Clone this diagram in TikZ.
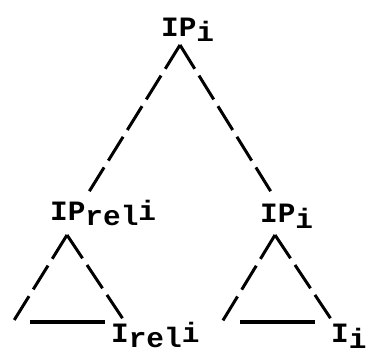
\documentclass[tikz,border=0pt]{standalone}
\usepackage{fontspec}
\newfontfamily\tw[FakeStretch=1.05]{Liberation Mono}
\tikzset{
  lbl/.style={inner sep=0pt, anchor=base west, font=\tw\bfseries\fontsize{28}{28}\selectfont},
  leg/.style={line width=3pt, dash pattern=on 28pt off 8pt},
  bar/.style={line width=3.2pt}
}
\begin{document}
\begin{tikzpicture}[x=1pt,y=-1pt]
\useasboundingbox (0,0) rectangle (368,354);
% labels
\node[lbl] (top)  at (161,36)  {IP\raisebox{-5pt}{i}};
\node[lbl] (relp) at (50,220)  {IP\raisebox{-5pt}{rel}i};
\node[lbl] (ip)   at (260,222) {IP\raisebox{-6pt}{i}};
\node[lbl] (irel) at (111,342) {I\raisebox{-5pt}{rel}i};
\node[lbl] (ii)   at (331,342) {I\raisebox{-6pt}{i}};
% top tree
\coordinate (a0) at (180,45);
\coordinate (a1) at (87,195);
\coordinate (a2) at (273,195);
\draw[leg] (a0) -- (a1);
\draw[leg] (a0) -- (a2);
% left triangle
\coordinate (b0) at (67,235);
\coordinate (b1) at (13,322);
\coordinate (b2) at (125,322);
\coordinate (bl) at (30,322);
\coordinate (br) at (105,322);
\draw[leg] (b0) -- (b1);
\draw[leg] (b0) -- (b2);
\draw[bar] (bl) -- (br);
% right triangle
\coordinate (c0) at (275,235);
\coordinate (c1) at (222,322);
\coordinate (c2) at (333,322);
\coordinate (cl) at (240,322);
\coordinate (cr) at (315,322);
\draw[leg] (c0) -- (c1);
\draw[leg] (c0) -- (c2);
\draw[bar] (cl) -- (cr);
\end{tikzpicture}
\end{document}
